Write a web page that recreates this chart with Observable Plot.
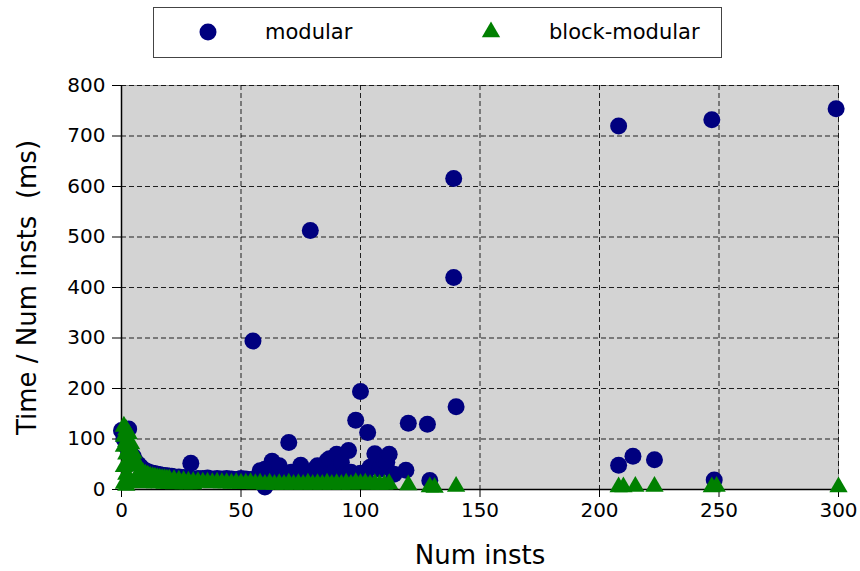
<!DOCTYPE html>
<html>
<head>
<meta charset="utf-8">
<script src="https://cdn.jsdelivr.net/npm/d3@7"></script>
<script src="https://cdn.jsdelivr.net/npm/@observablehq/plot@0.6"></script>
<style>
  html, body { margin: 0; padding: 0; background: #fff; }
  #wrap { position: relative; width: 860px; height: 571px; font-family: "DejaVu Sans", sans-serif; }
  #legend { position: absolute; left: 153px; top: 7px; width: 567px; height: 49px; border: 1.5px solid #444; background: #fff; }
  #legend .item { position: absolute; top: 0; height: 49px; line-height: 49px; font-size: 21px; color: #000; }
  #legend svg { position: absolute; }
</style>
</head>
<body>
<div id="wrap">
  <div id="chart"></div>
  <div id="legend"></div>
</div>
<script>
const seriesNames = ["modular", "block-modular"];
const seriesColors = ["#00007f", "#008000"];

const xTicks = [0, 50, 100, 150, 200, 250, 300];
const yTicks = [0, 100, 200, 300, 400, 500, 600, 700, 800];

const modularX = [0, 1, 2, 3, 4, 5, 6, 7, 8, 9, 10, 11, 12, 13, 14, 15, 16, 17, 18, 19, 20, 21, 22, 24, 26, 28, 29, 32, 34, 36, 38, 40, 42, 44, 46, 48, 50, 52, 54, 56, 58, 60, 60, 62, 63, 66, 66, 68, 70, 71, 73, 75, 77, 79, 80, 81, 82, 84, 86, 87, 89, 90, 92, 93, 95, 96, 98, 99, 100, 100, 102, 103, 104, 106, 108, 110, 111, 112, 114, 119, 120, 128, 129, 139, 139, 140, 55, 208, 208, 214, 223, 247, 248, 299];
const modularY = [117, 100, 85, 120, 70, 65, 55, 50, 45, 40, 37, 35, 33, 32, 31, 30, 29, 28, 27, 27, 26, 26, 25, 25, 24, 23, 52, 22, 22, 23, 21, 22, 21, 22, 21, 20, 22, 21, 20, 21, 37, 5, 40, 22, 56, 47, 24, 21, 93, 34, 25, 48, 22, 513, 28, 41, 47, 30, 57, 61, 35, 70, 54, 30, 77, 34, 137, 28, 194, 32, 25, 113, 44, 71, 40, 57, 54, 70, 30, 38, 131, 129, 18, 616, 420, 164, 294, 720, 48, 66, 59, 732, 19, 754];

const blockX = [1, 1, 1, 1, 1, 2, 2, 2, 2, 2, 3, 3, 3, 3, 4, 4, 4, 5, 5, 5, 6, 6, 7, 7, 8, 8, 9, 9, 10, 10, 11, 12, 12, 13, 14, 14, 15, 16, 16, 17, 18, 18, 19, 20, 20, 22, 22, 24, 24, 26, 26, 28, 28, 30, 30, 32, 34, 36, 38, 40, 42, 44, 46, 48, 50, 52, 54, 56, 58, 60, 62, 64, 66, 68, 70, 72, 74, 76, 78, 80, 82, 84, 86, 88, 90, 92, 94, 96, 98, 100, 102, 104, 106, 108, 110, 112, 120, 129, 131, 140, 208, 210, 215, 223, 247, 249, 300];
const blockY = [125, 105, 85, 45, 12, 118, 95, 70, 30, 8, 110, 80, 55, 20, 90, 62, 15, 72, 48, 14, 56, 16, 46, 15, 38, 14, 33, 13, 30, 14, 28, 26, 14, 25, 24, 13, 23, 22, 13, 21, 21, 12, 20, 20, 12, 19, 11, 18, 12, 17, 11, 16, 11, 15, 11, 15, 14, 14, 13, 14, 13, 13, 12, 13, 12, 12, 13, 11, 12, 10, 12, 10, 11, 10, 12, 10, 11, 10, 12, 10, 11, 10, 12, 10, 11, 10, 12, 10, 13, 11, 12, 10, 11, 10, 10, 11, 9, 5, 4, 6, 5, 5, 6, 6, 5, 6, 5];

const modular = modularX.map((x, i) => ({x, y: modularY[i]}));
const block = blockX.map((x, i) => ({x, y: blockY[i]}));

const chart = Plot.plot({
  width: 860,
  height: 571,
  marginTop: 85,
  marginBottom: 82,
  marginLeft: 121,
  marginRight: 22,
  style: {fontFamily: "DejaVu Sans", fontSize: "20px", color: "#000", background: "transparent"},
  x: {domain: [0, 300]},
  y: {domain: [0, 800]},
  marks: [
    Plot.frame({fill: "#d3d3d3", stroke: "#9a9a9a"}),
    Plot.gridX(xTicks, {stroke: "#000", strokeOpacity: 0.85, strokeDasharray: "5,3", strokeWidth: 1}),
    Plot.gridY(yTicks, {stroke: "#000", strokeOpacity: 0.85, strokeDasharray: "5,3", strokeWidth: 1}),
    Plot.axisX(xTicks, {tickSize: 8, tickPadding: 5, fontSize: 20, label: null, stroke: "#000"}),
    Plot.axisY(yTicks, {tickSize: 9, tickPadding: 7, fontSize: 20, label: null, stroke: "#000"}),
    Plot.ruleY([0], {stroke: "#000", strokeWidth: 1.5}),
    Plot.ruleX([0], {stroke: "#000", strokeWidth: 1.5}),
    Plot.dot(modular, {x: "x", y: "y", r: 8.5, fill: seriesColors[0], symbol: "circle"}),
    Plot.dot(block, {x: "x", y: "y", r: 6.8, fill: seriesColors[1], symbol: "triangle"}),
    Plot.text(["Num insts"], {frameAnchor: "bottom", dy: 66, fontSize: 26, lineAnchor: "middle", fill: "#000"}),
    Plot.text(["Time / Num insts  (ms)"], {frameAnchor: "left", dx: -94, rotate: -90, textAnchor: "middle", lineAnchor: "middle", fontSize: 26, fill: "#000"})
  ]
});
document.getElementById("chart").appendChild(chart);

// legend
const legend = document.getElementById("legend");
const items = [
  {sym: "circle", left: 42, textLeft: 111},
  {sym: "triangle", left: 325, textLeft: 395}
];
items.forEach((it, i) => {
  const s = document.createElementNS("http://www.w3.org/2000/svg", "svg");
  s.setAttribute("width", 24);
  s.setAttribute("height", 24);
  s.style.left = (it.left) + "px";
  s.style.top = "12px";
  const path = document.createElementNS("http://www.w3.org/2000/svg", "path");
  const size = it.sym === "circle" ? Math.PI * 8.5 * 8.5 : Math.PI * 6.8 * 6.8;
  const sym = it.sym === "circle" ? d3.symbolCircle : d3.symbolTriangle;
  path.setAttribute("d", d3.symbol(sym, size)());
  path.setAttribute("transform", "translate(12,12)");
  path.setAttribute("fill", seriesColors[i]);
  s.appendChild(path);
  legend.appendChild(s);
  const t = document.createElement("div");
  t.className = "item";
  t.style.left = it.textLeft + "px";
  t.textContent = seriesNames[i];
  legend.appendChild(t);
});
</script>
</body>
</html>
